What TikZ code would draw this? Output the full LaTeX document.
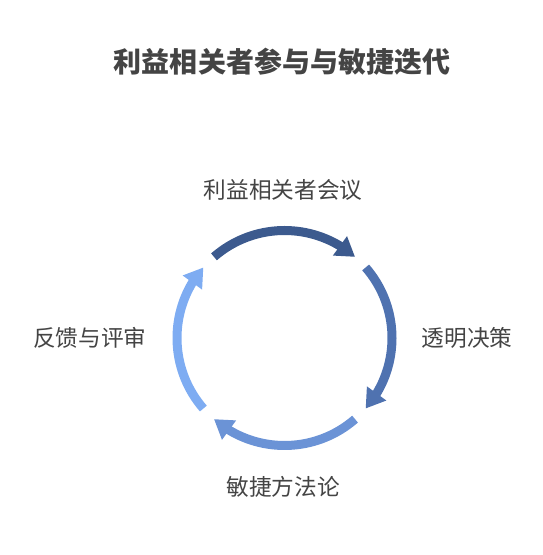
\documentclass[tikz,border=0pt]{standalone}
\usepackage{fontspec}
\setmainfont{Noto Sans CJK SC}
\usetikzlibrary{arrows.meta,bending}
\tikzset{x=0.75pt,y=0.75pt}
\definecolor{stepA}{HTML}{3C5A8E}
\definecolor{stepB}{HTML}{4F72B0}
\definecolor{stepC}{HTML}{6B93D6}
\definecolor{stepD}{HTML}{7EACF2}
\definecolor{labelgray}{HTML}{444444}
\def\r{107.5}
\def\halfspan{41}
\tikzset{cyclearc/.style={line width=6.75pt, -{Triangle[length=14pt,width=17pt,flex]}},
         steplabel/.style={text=labelgray, font=\fontsize{17pt}{20pt}\selectfont},
         titlelabel/.style={text=labelgray, font=\fontsize{21pt}{25pt}\selectfont\bfseries}}

\begin{document}
\begin{tikzpicture}

\useasboundingbox (-284.5,-217) rectangle (257.5,338);

% centre of the cycle
\coordinate (0) at (0,0);

\node[titlelabel] (title) at (-2.5,276) {利益相关者参与与敏捷迭代};

\node[steplabel] (meet) at (-1.5,148) {利益相关者会议};
\node[steplabel] (decide) at (182.5,0) {透明决策};
\node[steplabel] (agile) at (-1.5,-149) {敏捷方法论};
\node[steplabel] (review) at (-194.5,0) {反馈与评审};

% start points of the four arcs
\coordinate (meetS) at (90+\halfspan:\r);
\coordinate (decideS) at (0+\halfspan:\r);
\coordinate (agileS) at (-90+\halfspan:\r);
\coordinate (reviewS) at (-180+\halfspan:\r);

\draw[cyclearc, stepA] (meetS) arc[start angle=90+\halfspan, end angle=90-\halfspan, radius=\r];
\draw[cyclearc, stepB] (decideS) arc[start angle=\halfspan, end angle=-\halfspan, radius=\r];
\draw[cyclearc, stepC] (agileS) arc[start angle=-90+\halfspan, end angle=-90-\halfspan, radius=\r];
\draw[cyclearc, stepD] (reviewS) arc[start angle=-180+\halfspan, end angle=-180-\halfspan, radius=\r];

\end{tikzpicture}
\end{document}
